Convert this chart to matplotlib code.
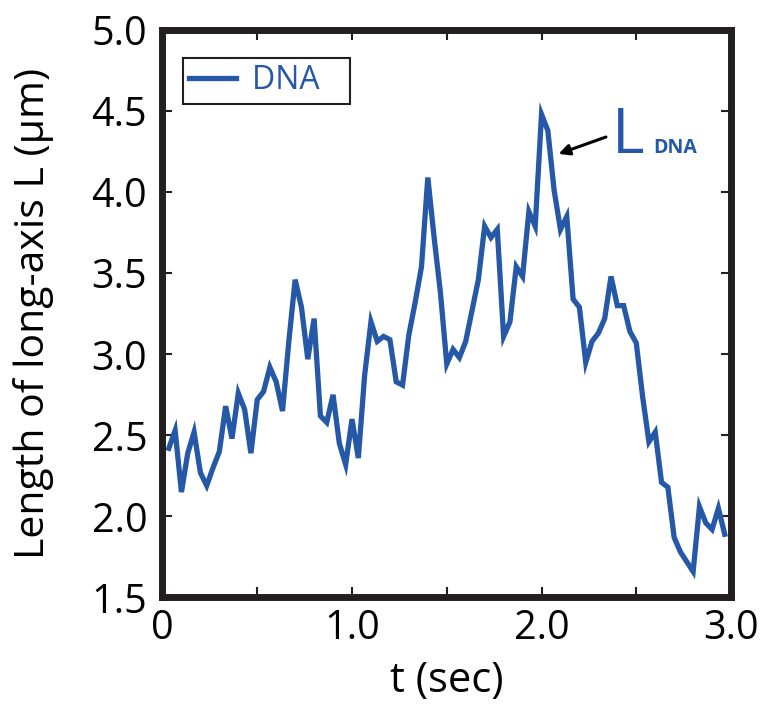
import numpy as np
import matplotlib
matplotlib.use("Agg")
import matplotlib.pyplot as plt
from matplotlib.ticker import FixedLocator, FixedFormatter

plt.rcParams['font.family'] = ['Open Sans', 'DejaVu Sans']

# Long-axis length of the DNA molecule, one value per video frame (30 fps)
frame_rate = 30
L_dna = [
    2.42, 2.53, 2.15, 2.39, 2.52, 2.27, 2.19, 2.30, 2.40, 2.68,
    2.48, 2.76, 2.66, 2.39, 2.72, 2.77, 2.92, 2.83, 2.65, 3.08,
    3.46, 3.29, 2.97, 3.22, 2.62, 2.58, 2.75, 2.45, 2.32, 2.60,
    2.36, 2.87, 3.20, 3.08, 3.11, 3.09, 2.83, 2.81, 3.12, 3.32,
    3.54, 4.09, 3.72, 3.38, 2.94, 3.03, 2.98, 3.08, 3.27, 3.46,
    3.79, 3.72, 3.77, 3.11, 3.20, 3.54, 3.48, 3.88, 3.79, 4.48,
    4.38, 4.01, 3.77, 3.85, 3.34, 3.29, 2.95, 3.08, 3.13, 3.22,
    3.48, 3.30, 3.30, 3.14, 3.07, 2.74, 2.46, 2.52, 2.21, 2.18,
    1.87, 1.78, 1.72, 1.66, 2.06, 1.96, 1.92, 2.05, 1.89,
]
t = np.arange(1, len(L_dna) + 1) / frame_rate

x_ticks = [0, 0.5, 1.0, 1.5, 2.0, 2.5, 3.0]
x_tick_labels = ['0', '', '1.0', '', '2.0', '', '3.0']
y_ticks = [1.5, 2.0, 2.5, 3.0, 3.5, 4.0, 4.5, 5.0]
y_tick_labels = ['1.5', '2.0', '2.5', '3.0', '3.5', '4.0', '4.5', '5.0']

blue = '#2558a7'

fig = plt.figure(figsize=(7.65, 7.06), dpi=100)
ax = fig.add_axes([0.2124, 0.1537, 0.7432, 0.8038])

ax.plot(t, L_dna, color=blue, lw=3.8, label='DNA\u2002 ', solid_joinstyle='miter')

ax.set_xlim(0, 3.0)
ax.set_ylim(1.5, 5.0)
ax.xaxis.set_major_locator(FixedLocator(x_ticks))
ax.xaxis.set_major_formatter(FixedFormatter(x_tick_labels))
ax.yaxis.set_major_locator(FixedLocator(y_ticks))
ax.yaxis.set_major_formatter(FixedFormatter(y_tick_labels))

for s in ax.spines.values():
    s.set_linewidth(5)
    s.set_color('#231f20')

ax.tick_params(direction='in', length=7, width=1.5, color='#231f20',
               top=True, right=True, labelsize=28.5, labelcolor='black')
ax.tick_params(axis='y', pad=11)
ax.tick_params(axis='x', pad=8)

ax.set_xlabel('t (sec)', fontsize=30, labelpad=8)
ax.set_ylabel('Length of long-axis L (\u00b5m)', fontsize=29.5, labelpad=27)

leg = ax.legend(loc='upper left', bbox_to_anchor=(0.036, 0.951), borderaxespad=0,
                fontsize=23, handlelength=1.45, handletextpad=0.5,
                borderpad=0.2, fancybox=False, framealpha=1)
leg.get_frame().set_edgecolor('#231f20')
leg.get_frame().set_linewidth(1.5)
for txt in leg.get_texts():
    txt.set_color(blue)

# Label for the DNA length trace
ax.text(2.37, 4.24, 'L', color=blue, fontsize=45, ha='left', va='baseline')
ax.text(2.59, 4.24, 'DNA', color=blue, fontsize=14, fontweight='bold',
        ha='left', va='baseline')
ax.annotate('', xy=(2.09, 4.236), xytext=(2.34, 4.34),
            arrowprops=dict(arrowstyle='-|>', color='black', lw=2.2,
                            mutation_scale=16, shrinkA=0, shrinkB=0))

fig.savefig('out.png', dpi=100)
